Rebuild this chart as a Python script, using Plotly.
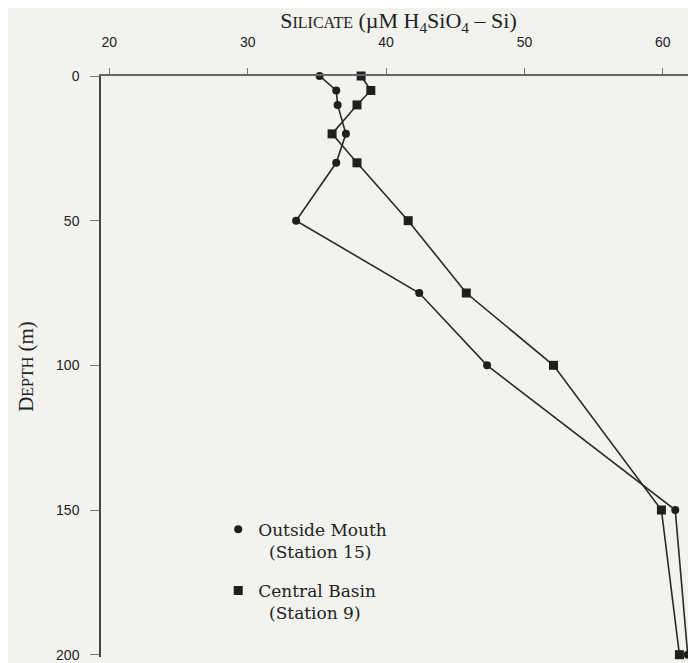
import plotly.graph_objects as go

depth = [0, 5, 10, 20, 30, 50, 75, 100, 150, 200]
outside_mouth = [35.2, 36.4, 36.5, 37.1, 36.4, 33.5, 42.4, 47.3, 60.9, 61.8]
central_basin = [38.2, 38.9, 37.9, 36.1, 37.9, 41.6, 45.8, 52.1, 59.9, 61.2]

x_ticks = [20, 30, 40, 50, 60]
y_ticks = [0, 50, 100, 150, 200]

names = ["Outside Mouth<br>\u00a0\u00a0(Station 15)", "Central Basin<br>\u00a0\u00a0(Station 9)"]

ink = "#1f1f1f"
bg = "#f2f2ee"

fig = go.Figure()
fig.add_trace(go.Scatter(
    x=outside_mouth, y=depth, mode="lines+markers", name=names[0],
    line=dict(color="#2a2a2a", width=1.6),
    marker=dict(symbol="circle", size=8, color=ink),
    cliponaxis=False, showlegend=False,
))
fig.add_trace(go.Scatter(
    x=central_basin, y=depth, mode="lines+markers", name=names[1],
    line=dict(color="#2a2a2a", width=1.6),
    marker=dict(symbol="square", size=9, color=ink),
    cliponaxis=False, showlegend=False,
))
# legend-only entries (marker without line, as in the reference key)
fig.add_trace(go.Scatter(
    x=[None], y=[None], mode="markers", name=names[0],
    marker=dict(symbol="circle", size=8, color=ink), legendgroup="a",
))
fig.add_trace(go.Scatter(
    x=[None], y=[None], mode="markers", name=names[1],
    marker=dict(symbol="square", size=9, color=ink), legendgroup="b",
))

sc_x = "font-size:16px"
sc_y = "font-size:16px"
fig.update_layout(
    width=696, height=663,
    paper_bgcolor=bg, plot_bgcolor=bg,
    margin=dict(l=93, r=8, t=67, b=11),
    showlegend=True,
    legend=dict(
        x=0.197, y=0.25, xanchor="left", yanchor="top",
        bgcolor="rgba(0,0,0,0)", valign="top",
        font=dict(family="DejaVu Serif", size=17, color="#222"),
        tracegroupgap=14, itemwidth=30,
    ),
    xaxis=dict(
        side="top", range=[19.4, 62.4], tickvals=x_ticks,
        showgrid=False, zeroline=False,
        showline=True, linecolor="#666", linewidth=1.5,
        ticks="outside", ticklen=6, tickcolor="#777", tickwidth=1,
        ticklabelstandoff=16,
        tickfont=dict(family="Liberation Sans", size=14, color="#222"),
        title=dict(
            text=f"S<span style='{sc_x}'>ILICATE</span> (µM H<sub>4</sub>SiO<sub>4</sub> – Si)",
            font=dict(family="Liberation Serif", size=22, color="#222"),
            standoff=2,
        ),
    ),
    yaxis=dict(
        range=[200.8, 0], tickvals=y_ticks,
        showgrid=False, zeroline=False,
        showline=True, linecolor="#444", linewidth=1.5,
        ticks="outside", ticklen=9, tickcolor="#777", tickwidth=1,
        ticklabelstandoff=8,
        tickfont=dict(family="Liberation Sans", size=14, color="#222"),
        title=dict(
            text=f"D<span style='{sc_y}'>EPTH</span> (m)",
            font=dict(family="Liberation Serif", size=21, color="#222"),
            standoff=17,
        ),
    ),
)

fig.write_html("out.html")
